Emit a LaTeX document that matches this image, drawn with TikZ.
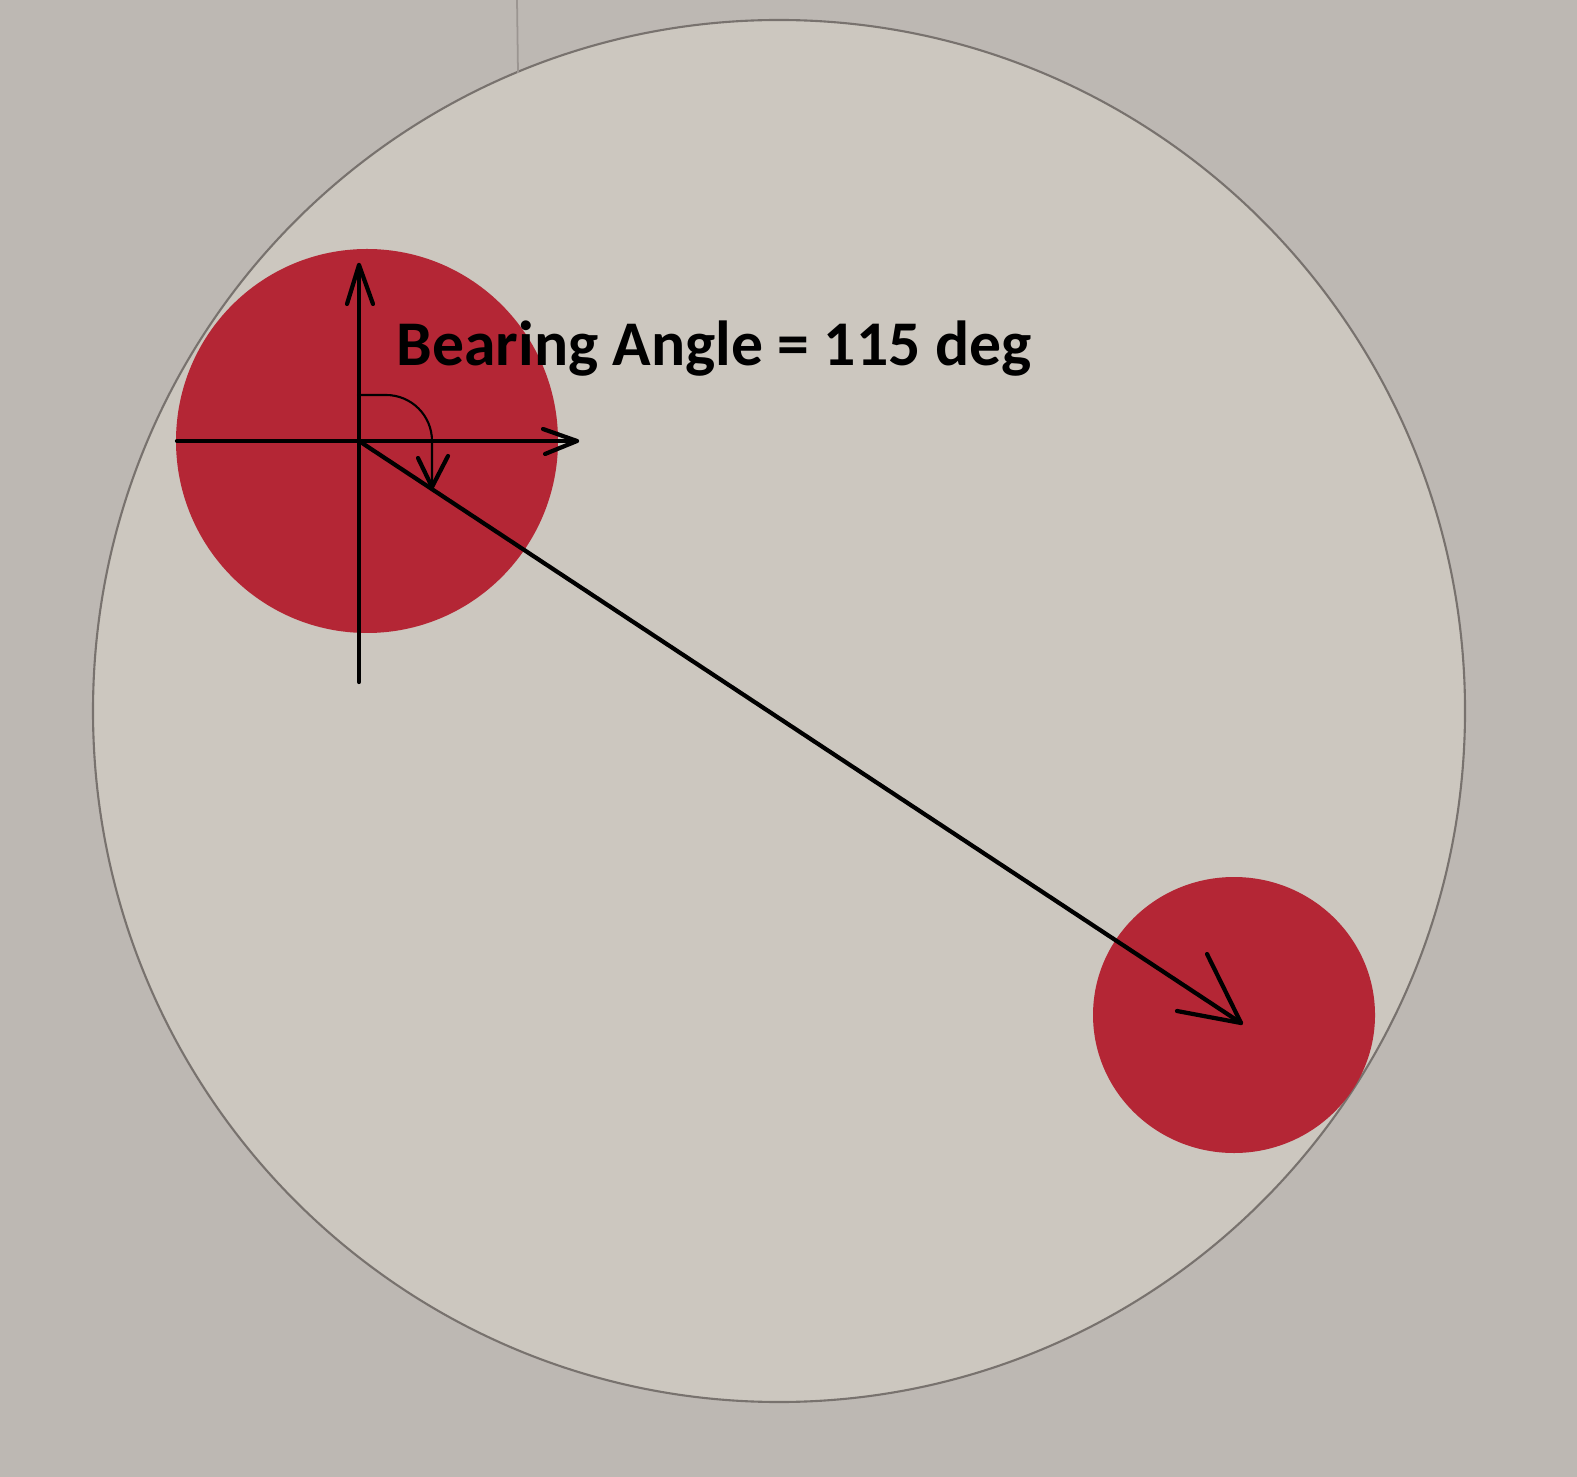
\documentclass[tikz,border=0pt]{standalone}
\usepackage{fontspec}
\newfontfamily\labelfont{Carlito}
\definecolor{paperout}{RGB}{189,184,179}
\definecolor{paperin}{RGB}{204,199,191}
\definecolor{dotred}{RGB}{180,38,53}
\definecolor{pencil}{RGB}{120,114,110}
\tikzset{
  axis/.style={black, line width=1.2pt, line cap=round, line join=round},
  thinpen/.style={black, line width=0.6pt, line cap=round},
  outline/.style={pencil, line width=0.6pt},
}
\begin{document}
\begin{tikzpicture}[x=0.01cm, y=-0.01cm]
\useasboundingbox (0,0) rectangle (1577,1477);
\fill[paperout] (0,0) rectangle (1577,1477);
% big paper circle
\coordinate (C) at (779,711);
\fill[paperin] (C) ellipse [x radius=686, y radius=691];
\draw[outline] (C) ellipse [x radius=686, y radius=691];
% fold line at top
\draw[pencil!50!paperout, line width=0.5pt] (517,0) -- (518,73);
% red dots
\fill[dotred] (367,441) ellipse [x radius=191, y radius=192];
\fill[dotred] (1234,1015) ellipse [x radius=141, y radius=138];
% axes
\coordinate (O) at (359,441);
\coordinate (Ntip) at (359,265);
\coordinate (Sbot) at (359,682);
\coordinate (Wend) at (177,441);
\coordinate (Etip) at (577,441);
\draw[axis] (Sbot) -- (Ntip);
\draw[axis] (347,304) -- (Ntip) -- (373,304);
\draw[axis] (Wend) -- (Etip);
\draw[axis] (543,429) -- (Etip) -- (545,454);
% bearing arc
\coordinate (Arcstart) at (358,395);
\coordinate (Arctip) at (432,487);
\draw[thinpen] (Arcstart) -- (386,395) arc [start angle=-90, end angle=0, radius=46] -- (Arctip);
\draw[axis] (418,458) -- (Arctip) -- (448,456);
% bearing vector
\coordinate (Btip) at (1241,1023);
\draw[axis] (O) -- (Btip);
\draw[axis] (1177,1011) -- (Btip) -- (1207,954);
% label
\node[anchor=base west, inner sep=0pt, font=\labelfont\bfseries\fontsize{18.1pt}{21pt}\selectfont] (label) at (396,366) {Bearing Angle = 115 deg};
\end{tikzpicture}
\end{document}
